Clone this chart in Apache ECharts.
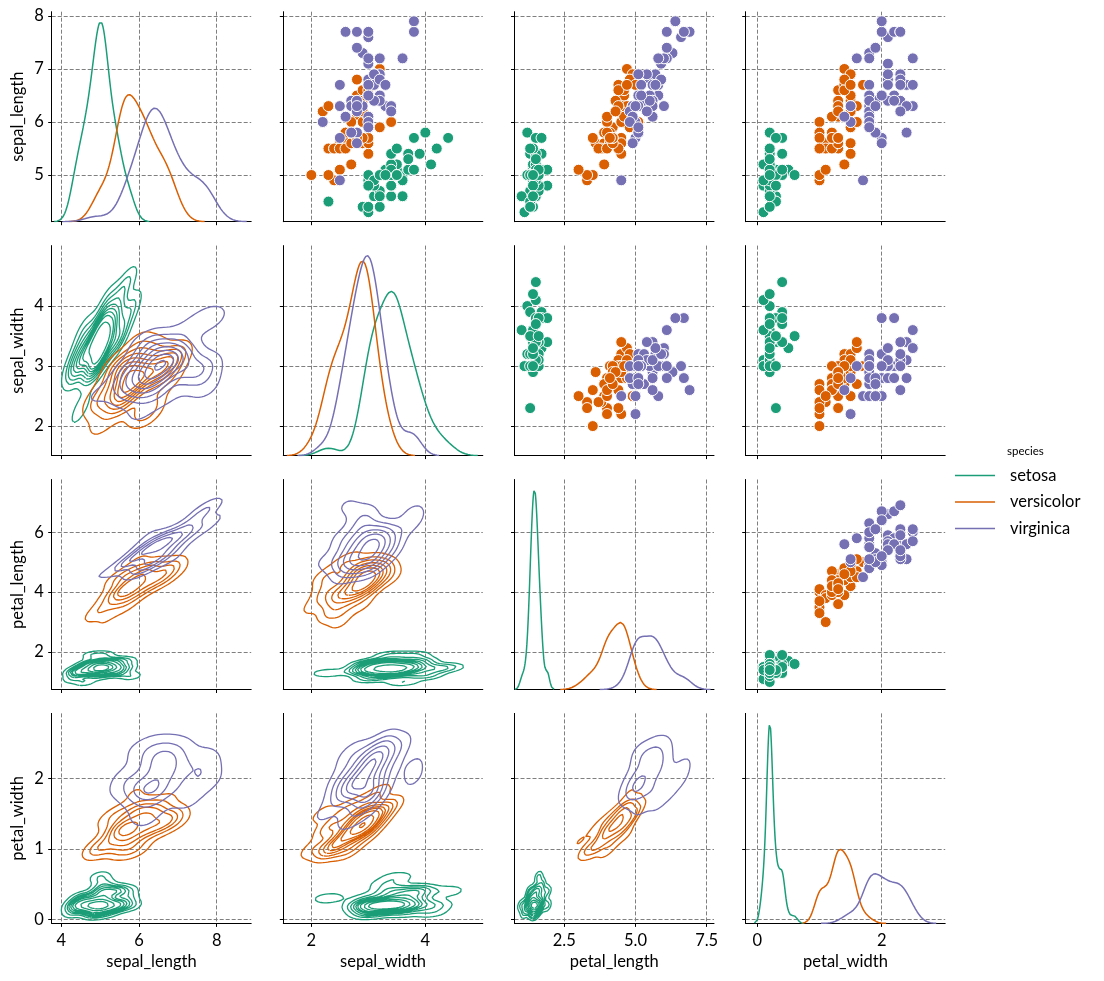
<!DOCTYPE html>
<html>
<head>
<meta charset="utf-8">
<script src="https://cdn.jsdelivr.net/npm/echarts@6/dist/echarts.min.js"></script>
<style>html,body{margin:0;padding:0;background:#fff}#chart{width:1104px;height:981px}</style>
</head>
<body>
<div id="chart"></div>
<script>
// ---------------- DATA (iris, as plotted) ----------------
const variables = ['sepal_length', 'sepal_width', 'petal_length', 'petal_width'];
const speciesNames = ['setosa', 'versicolor', 'virginica'];
const speciesColors = ['#1b9e77', '#d95f02', '#7570b3'];

const sepal_length = [
  5.1,4.9,4.7,4.6,5.0,5.4,4.6,5.0,4.4,4.9,5.4,4.8,4.8,4.3,5.8,5.7,5.4,5.1,5.7,5.1,5.4,5.1,4.6,5.1,4.8,5.0,5.0,5.2,5.2,4.7,4.8,5.4,5.2,5.5,4.9,5.0,5.5,4.9,4.4,5.1,5.0,4.5,4.4,5.0,5.1,4.8,5.1,4.6,5.3,5.0,
  7.0,6.4,6.9,5.5,6.5,5.7,6.3,4.9,6.6,5.2,5.0,5.9,6.0,6.1,5.6,6.7,5.6,5.8,6.2,5.6,5.9,6.1,6.3,6.1,6.4,6.6,6.8,6.7,6.0,5.7,5.5,5.5,5.8,6.0,5.4,6.0,6.7,6.3,5.6,5.5,5.5,6.1,5.8,5.0,5.6,5.7,5.7,6.2,5.1,5.7,
  6.3,5.8,7.1,6.3,6.5,7.6,4.9,7.3,6.7,7.2,6.5,6.4,6.8,5.7,5.8,6.4,6.5,7.7,7.7,6.0,6.9,5.6,7.7,6.3,6.7,7.2,6.2,6.1,6.4,7.2,7.4,7.9,6.4,6.3,6.1,7.7,6.3,6.4,6.0,6.9,6.7,6.9,5.8,6.8,6.7,6.7,6.3,6.5,6.2,5.9
];
const sepal_width = [
  3.5,3.0,3.2,3.1,3.6,3.9,3.4,3.4,2.9,3.1,3.7,3.4,3.0,3.0,4.0,4.4,3.9,3.5,3.8,3.8,3.4,3.7,3.6,3.3,3.4,3.0,3.4,3.5,3.4,3.2,3.1,3.4,4.1,4.2,3.1,3.2,3.5,3.6,3.0,3.4,3.5,2.3,3.2,3.5,3.8,3.0,3.8,3.2,3.7,3.3,
  3.2,3.2,3.1,2.3,2.8,2.8,3.3,2.4,2.9,2.7,2.0,3.0,2.2,2.9,2.9,3.1,3.0,2.7,2.2,2.5,3.2,2.8,2.5,2.8,2.9,3.0,2.8,3.0,2.9,2.6,2.4,2.4,2.7,2.7,3.0,3.4,3.1,2.3,3.0,2.5,2.6,3.0,2.6,2.3,2.7,3.0,2.9,2.9,2.5,2.8,
  3.3,2.7,3.0,2.9,3.0,3.0,2.5,2.9,2.5,3.6,3.2,2.7,3.0,2.5,2.8,3.2,3.0,3.8,2.6,2.2,3.2,2.8,2.8,2.7,3.3,3.2,2.8,3.0,2.8,3.0,2.8,3.8,2.8,2.8,2.6,3.0,3.4,3.1,3.0,3.1,3.1,3.1,2.7,3.2,3.3,3.0,2.5,3.0,3.4,3.0
];
const petal_length = [
  1.4,1.4,1.3,1.5,1.4,1.7,1.4,1.5,1.4,1.5,1.5,1.6,1.4,1.1,1.2,1.5,1.3,1.4,1.7,1.5,1.7,1.5,1.0,1.7,1.9,1.6,1.6,1.5,1.4,1.6,1.6,1.5,1.5,1.4,1.5,1.2,1.3,1.4,1.3,1.5,1.3,1.3,1.3,1.6,1.9,1.4,1.6,1.4,1.5,1.4,
  4.7,4.5,4.9,4.0,4.6,4.5,4.7,3.3,4.6,3.9,3.5,4.2,4.0,4.7,3.6,4.4,4.5,4.1,4.5,3.9,4.8,4.0,4.9,4.7,4.3,4.4,4.8,5.0,4.5,3.5,3.8,3.7,3.9,5.1,4.5,4.5,4.7,4.4,4.1,4.0,4.4,4.6,4.0,3.3,4.2,4.2,4.2,4.3,3.0,4.1,
  6.0,5.1,5.9,5.6,5.8,6.6,4.5,6.3,5.8,6.1,5.1,5.3,5.5,5.0,5.1,5.3,5.5,6.7,6.9,5.0,5.7,4.9,6.7,4.9,5.7,6.0,4.8,4.9,5.6,5.8,6.1,6.4,5.6,5.1,5.6,6.1,5.6,5.5,4.8,5.4,5.6,5.1,5.1,5.9,5.7,5.2,5.0,5.2,5.4,5.1
];
const petal_width = [
  0.2,0.2,0.2,0.2,0.2,0.4,0.3,0.2,0.2,0.1,0.2,0.2,0.1,0.1,0.2,0.4,0.4,0.3,0.3,0.3,0.2,0.4,0.2,0.5,0.2,0.2,0.4,0.2,0.2,0.2,0.2,0.4,0.1,0.2,0.2,0.2,0.2,0.1,0.2,0.2,0.3,0.3,0.2,0.6,0.4,0.3,0.2,0.2,0.2,0.2,
  1.4,1.5,1.5,1.3,1.5,1.3,1.6,1.0,1.3,1.4,1.0,1.5,1.0,1.4,1.3,1.4,1.5,1.0,1.5,1.1,1.8,1.3,1.5,1.2,1.3,1.4,1.4,1.7,1.5,1.0,1.1,1.0,1.2,1.6,1.5,1.6,1.5,1.3,1.3,1.3,1.2,1.4,1.2,1.0,1.3,1.2,1.3,1.3,1.1,1.3,
  2.5,1.9,2.1,1.8,2.2,2.1,1.7,1.8,1.8,2.5,2.0,1.9,2.1,2.0,2.4,2.3,1.8,2.2,2.3,1.5,2.3,2.0,2.0,1.8,2.1,1.8,1.8,1.8,2.1,1.6,1.9,2.0,2.2,1.5,1.4,2.3,2.4,1.8,1.8,2.1,2.4,2.3,1.9,2.3,2.5,2.3,1.9,2.0,2.3,1.8
];
const species = [].concat(Array(50).fill('setosa'), Array(50).fill('versicolor'), Array(50).fill('virginica'));

// tick labels
const xTicks_sepal_length = [4, 6, 8];
const xTicks_sepal_width = [2, 4];
const xTicks_petal_length = [2.5, 5.0, 7.5];
const xTicks_petal_width = [0, 2];
const yTicks_sepal_length = [5, 6, 7, 8];
const yTicks_sepal_width = [2, 3, 4];
const yTicks_petal_length = [2, 4, 6];
const yTicks_petal_width = [0, 1, 2];

// ---------------- LAYOUT ----------------
const columns = {sepal_length, sepal_width, petal_length, petal_width};
const xTicks = {sepal_length: xTicks_sepal_length, sepal_width: xTicks_sepal_width, petal_length: xTicks_petal_length, petal_width: xTicks_petal_width};
const yTicks = {sepal_length: yTicks_sepal_length, sepal_width: yTicks_sepal_width, petal_length: yTicks_petal_length, petal_width: yTicks_petal_width};
const colRange = {sepal_length: [3.753, 8.888], sepal_width: [1.508, 5.008], petal_length: [0.75, 7.758], petal_width: [-0.186, 3.021]};
const rowRange = {sepal_length: [4.12, 8.08], sepal_width: [1.508, 5.008], petal_length: [0.749, 7.76], petal_width: [-0.058, 2.929]};
const colLeft = [51.7, 283.3, 514.5, 745.7];
const rowTop = [11.7, 245.6, 479.5, 713.4];
const PW = 199.5, PH = 210;
const FONT = 'Lato, "Open Sans", "DejaVu Sans", sans-serif';
const FS = 16.5;

// ---------------- KDE (seaborn-style: scott bw, cut=3, gridsize=200, common_norm) ----------------
function subset(v, s) { return columns[v].filter((_, i) => species[i] === speciesNames[s]); }
function mean(a) { let t = 0; for (const v of a) t += v; return t / a.length; }
function linspace(a, b, n) { const r = []; for (let i = 0; i < n; i++) r.push(a + (b - a) * i / (n - 1)); return r; }
const GRID_N = 200;
const totalN = species.length;

function kde1d(vals) {
  const n = vals.length, m = mean(vals);
  let ss = 0; for (const v of vals) ss += (v - m) * (v - m);
  const sd = Math.sqrt(ss / (n - 1));
  const bw = sd * Math.pow(n, -1 / 5);
  const lo = Math.min(...vals) - 3 * bw, hi = Math.max(...vals) + 3 * bw;
  const xs = linspace(lo, hi, GRID_N);
  const frac = n / totalN;
  const norm = frac / (n * bw * Math.sqrt(2 * Math.PI));
  return xs.map(x => {
    let t = 0;
    for (const v of vals) { const u = (x - v) / bw; t += Math.exp(-0.5 * u * u); }
    return [x, t * norm];
  });
}

function kde2d(xv, yv) {
  const n = xv.length, mx = mean(xv), my = mean(yv);
  let sxx = 0, syy = 0, sxy = 0;
  for (let i = 0; i < n; i++) { const dx = xv[i] - mx, dy = yv[i] - my; sxx += dx * dx; syy += dy * dy; sxy += dx * dy; }
  sxx /= (n - 1); syy /= (n - 1); sxy /= (n - 1);
  const f2 = Math.pow(n, -1 / 3);
  const cxx = sxx * f2, cyy = syy * f2, cxy = sxy * f2;
  const det = cxx * cyy - cxy * cxy;
  const ia = cyy / det, ib = -cxy / det, ic = cxx / det;
  const bwx = Math.sqrt(cxx), bwy = Math.sqrt(cyy);
  const xs = linspace(Math.min(...xv) - 3 * bwx, Math.max(...xv) + 3 * bwx, GRID_N);
  const ys = linspace(Math.min(...yv) - 3 * bwy, Math.max(...yv) + 3 * bwy, GRID_N);
  const N = GRID_N;
  const z = new Float64Array(N * N);
  for (let p = 0; p < n; p++) {
    const xp = xv[p], yp = yv[p];
    for (let k = 0; k < N; k++) {
      const dy = ys[k] - yp;
      const cyyTerm = ic * dy * dy;
      const bterm = 2 * ib * dy;
      const row = k * N;
      for (let i = 0; i < N; i++) {
        const dx = xs[i] - xp;
        const q = ia * dx * dx + bterm * dx + cyyTerm;
        if (q < 60) z[row + i] += Math.exp(-0.5 * q);
      }
    }
  }
  const norm = (n / totalN) / (n * 2 * Math.PI * Math.sqrt(det));
  for (let i = 0; i < z.length; i++) z[i] *= norm;
  return {xs, ys, z, N};
}

function quantileLevels(arrays, nLevels, thresh) {
  let len = 0; for (const a of arrays) len += a.length;
  const all = new Float64Array(len); let o = 0;
  for (const a of arrays) { all.set(a, o); o += a.length; }
  all.sort(); all.reverse();
  let tot = 0; for (let i = 0; i < len; i++) tot += all[i];
  const cum = new Float64Array(len); let c = 0;
  for (let i = 0; i < len; i++) { c += all[i]; cum[i] = c / tot; }
  const isoprops = linspace(thresh, 1, nLevels);
  return isoprops.map(q => {
    const target = 1 - q;
    let lo = 0, hi = len;
    while (lo < hi) { const mid = (lo + hi) >> 1; if (cum[mid] < target) lo = mid + 1; else hi = mid; }
    return all[Math.min(lo, len - 1)];
  });
}

function contourPaths(g, L) {
  const {xs, ys, z, N} = g;
  const segs = [];
  for (let k = 0; k < N - 1; k++) {
    for (let i = 0; i < N - 1; i++) {
      const a = z[k * N + i], b = z[k * N + i + 1], c = z[(k + 1) * N + i + 1], d = z[(k + 1) * N + i];
      const code = (a > L ? 1 : 0) | (b > L ? 2 : 0) | (c > L ? 4 : 0) | (d > L ? 8 : 0);
      if (code === 0 || code === 15) continue;
      const eB = (k * N + i) * 2, eT = ((k + 1) * N + i) * 2, eL = (k * N + i) * 2 + 1, eR = (k * N + i + 1) * 2 + 1;
      switch (code) {
        case 1: case 14: segs.push(eL, eB); break;
        case 2: case 13: segs.push(eB, eR); break;
        case 3: case 12: segs.push(eL, eR); break;
        case 4: case 11: segs.push(eR, eT); break;
        case 6: case 9: segs.push(eB, eT); break;
        case 7: case 8: segs.push(eL, eT); break;
        case 5: { const ctr = (a + b + c + d) / 4;
          if (ctr > L) segs.push(eB, eR, eL, eT); else segs.push(eL, eB, eR, eT); break; }
        case 10: { const ctr = (a + b + c + d) / 4;
          if (ctr > L) segs.push(eL, eB, eR, eT); else segs.push(eB, eR, eL, eT); break; }
      }
    }
  }
  const ns = segs.length / 2;
  const adj = new Map();
  for (let s = 0; s < ns; s++) {
    for (const e of [segs[2 * s], segs[2 * s + 1]]) {
      if (!adj.has(e)) adj.set(e, []);
      adj.get(e).push(s);
    }
  }
  const used = new Uint8Array(ns);
  function pt(e) {
    const isV = e & 1, idx = e >> 1, i = idx % N, k = (idx - i) / N;
    if (!isV) {
      const z0 = z[k * N + i], z1 = z[k * N + i + 1], t = (L - z0) / (z1 - z0);
      return [xs[i] + t * (xs[i + 1] - xs[i]), ys[k]];
    } else {
      const z0 = z[k * N + i], z1 = z[(k + 1) * N + i], t = (L - z0) / (z1 - z0);
      return [xs[i], ys[k] + t * (ys[k + 1] - ys[k])];
    }
  }
  function walk(s, e) {
    const line = [pt(e)];
    while (true) {
      used[s] = 1;
      const other = segs[2 * s] === e ? segs[2 * s + 1] : segs[2 * s];
      line.push(pt(other));
      let next = -1;
      for (const t of adj.get(other)) if (!used[t]) { next = t; break; }
      if (next < 0) break;
      s = next; e = other;
    }
    return line;
  }
  const paths = [];
  for (const [e, list] of adj) {
    if (list.length === 1 && !used[list[0]]) paths.push(walk(list[0], e));
  }
  for (let s = 0; s < ns; s++) if (!used[s]) paths.push(walk(s, segs[2 * s]));
  return paths;
}

// ---------------- BUILD OPTION ----------------
const grids = [], xAxes = [], yAxes = [], series = [];
const axisLineStyle = {color: '#000', width: 1};
const splitStyle = {show: true, lineStyle: {color: '#7f7f7f', width: 1, type: [4, 2]}};

for (let r = 0; r < 4; r++) {
  for (let c = 0; c < 4; c++) {
    const g = r * 4 + c;
    const xv = variables[c], yv = variables[r];
    grids.push({left: colLeft[c], top: rowTop[r], width: PW, height: PH, containLabel: false, outerBoundsMode: 'none'});
    xAxes.push({
      type: 'value', gridIndex: g, min: colRange[xv][0], max: colRange[xv][1],
      axisLine: {show: true, onZero: false, lineStyle: axisLineStyle},
      axisTick: {show: true, inside: false, length: 3.5, lineStyle: axisLineStyle, customValues: xTicks[xv]},
      axisLabel: {show: r === 3, customValues: xTicks[xv], margin: 9, fontSize: FS, color: '#000', fontFamily: FONT,
        formatter: v => (xv === 'petal_length' ? Number(v).toFixed(1) : String(v))},
      splitLine: splitStyle,
      name: r === 3 ? xv : '', nameLocation: 'middle', nameGap: 30, nameMoveOverlap: false,
      nameTextStyle: {fontSize: FS, color: '#000', fontFamily: FONT}
    });
    yAxes.push({
      type: 'value', gridIndex: g, min: rowRange[yv][0], max: rowRange[yv][1],
      axisLine: {show: true, onZero: false, lineStyle: axisLineStyle},
      axisTick: {show: true, inside: false, length: 3.5, lineStyle: axisLineStyle, customValues: yTicks[yv]},
      axisLabel: {show: c === 0, customValues: yTicks[yv], margin: 8, fontSize: FS, color: '#000', fontFamily: FONT},
      splitLine: splitStyle,
      name: c === 0 ? yv : '', nameLocation: 'middle', nameRotate: 90, nameGap: 26, nameMoveOverlap: false,
      nameTextStyle: {fontSize: FS, color: '#000', fontFamily: FONT}
    });
  }
}

for (let r = 0; r < 4; r++) {
  for (let c = 0; c < 4; c++) {
    const g = r * 4 + c;
    const xv = variables[c], yv = variables[r];
    if (r === c) {
      const curves = speciesNames.map((_, s) => kde1d(subset(xv, s)));
      let dmax = 0; curves.forEach(cv => cv.forEach(p => { if (p[1] > dmax) dmax = p[1]; }));
      const yIdx = yAxes.length;
      yAxes.push({type: 'value', gridIndex: g, min: 0, max: dmax * 1.05, show: false, splitLine: {show: false}});
      curves.forEach((cv, s) => series.push({
        type: 'line', name: speciesNames[s], xAxisIndex: g, yAxisIndex: yIdx, data: cv,
        showSymbol: false, symbol: 'none', silent: true, z: 3,
        lineStyle: {width: 1.5, color: speciesColors[s]}, itemStyle: {color: speciesColors[s]}
      }));
    } else if (r < c) {
      speciesNames.forEach((nm, s) => {
        const xs = subset(xv, s), ys = subset(yv, s);
        series.push({
          type: 'scatter', name: nm, xAxisIndex: g, yAxisIndex: g, silent: true, z: 3,
          data: xs.map((x, i) => [x, ys[i]]), symbolSize: 11,
          itemStyle: {color: speciesColors[s], borderColor: '#fff', borderWidth: 1, opacity: 1}
        });
      });
    } else {
      const dens = speciesNames.map((_, s) => kde2d(subset(xv, s), subset(yv, s)));
      const levels = quantileLevels(dens.map(d => d.z), 10, 0.05);
      dens.forEach((d, s) => {
        const data = [];
        levels.forEach(L => {
          contourPaths(d, L).forEach(path => {
            if (path.length < 2) return;
            path.forEach(p => data.push(p));
            data.push(['-', '-']);
          });
        });
        series.push({
          type: 'line', name: speciesNames[s], xAxisIndex: g, yAxisIndex: g, data,
          showSymbol: false, symbol: 'none', silent: true, connectNulls: false, z: 3,
          lineStyle: {width: 1.3, color: speciesColors[s]}, itemStyle: {color: speciesColors[s]}
        });
      });
    }
  }
}

const option = {
  animation: false,
  backgroundColor: '#fff',
  textStyle: {fontFamily: FONT},
  title: {text: 'species', left: 1002, top: 440, textStyle: {fontSize: 11.5, fontWeight: 'normal', color: '#000', fontFamily: FONT}},
  legend: {
    data: speciesNames, orient: 'vertical', left: 950, top: 461.5, itemWidth: 40, itemHeight: 1.6, itemGap: 8.5,
    icon: 'rect', selectedMode: false,
    textStyle: {fontSize: FS, lineHeight: 18, color: '#000', fontFamily: FONT, padding: [0, 0, 0, 10]}
  },
  grid: grids, xAxis: xAxes, yAxis: yAxes, series
};
const chart = echarts.init(document.getElementById('chart'), null, {renderer: 'canvas'});
chart.setOption(option);
</script>
</body>
</html>
